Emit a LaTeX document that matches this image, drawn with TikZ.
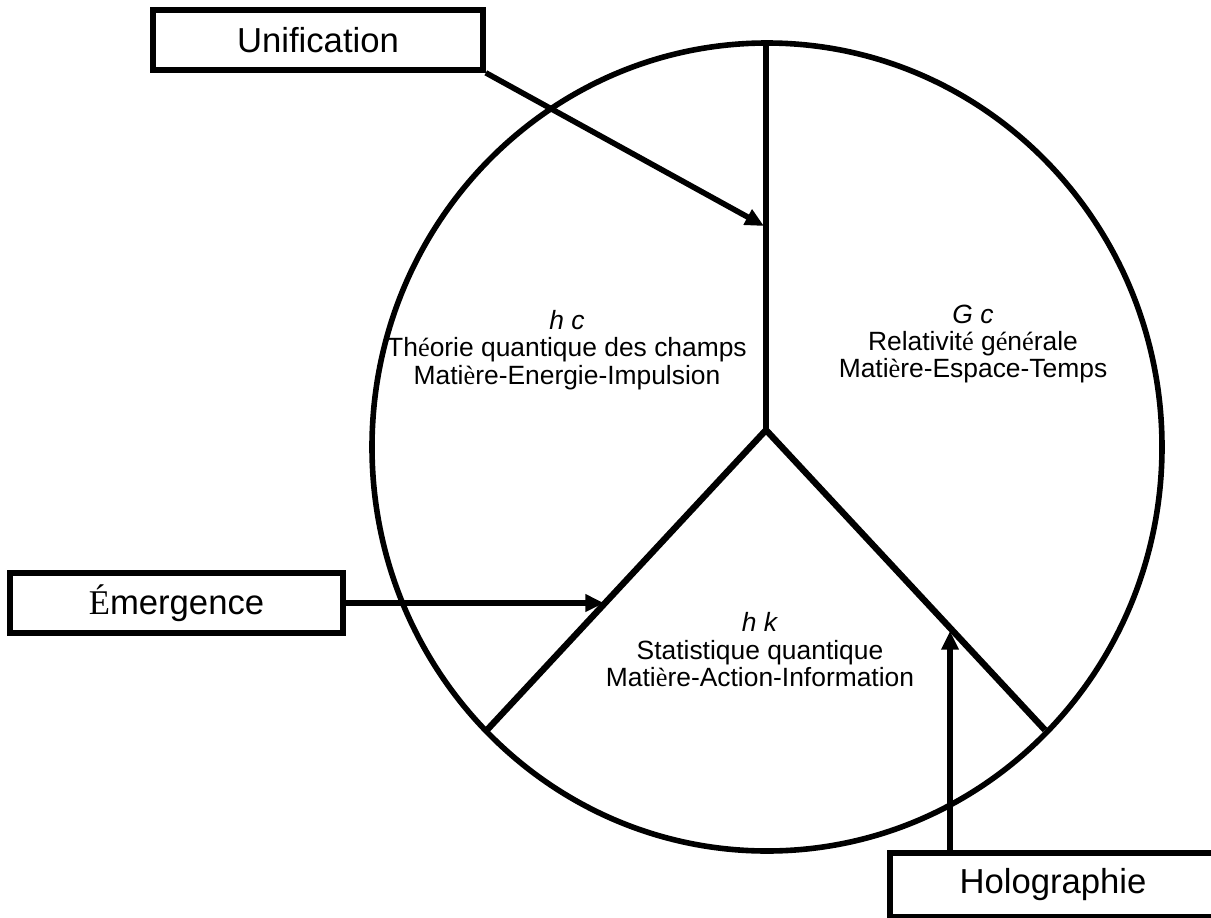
\documentclass[tikz,border=0pt]{standalone}
\usepackage{fontspec}
\setmainfont{Liberation Sans}
\newfontfamily\serifacc{Liberation Serif}
\usetikzlibrary{arrows.meta}
\newcommand{\sa}[1]{{\serifacc #1}}
\begin{document}
\begin{tikzpicture}[x=0.75pt,y=-0.75pt,
  lbl/.style={draw, line width=4.2pt, inner sep=0pt, font=\fontsize{26}{30}\selectfont},
  txt/.style={align=center, inner sep=0pt, font=\fontsize{19.8}{20.6}\selectfont},
  outline/.style={line width=4.2pt},
  yline/.style={line width=4.8pt, line join=miter},
  arr/.style={line width=4.2pt, -{Triangle[length=14pt,width=12.5pt]}}]
\fill[white] (0,0) rectangle (1211,918);
\useasboundingbox (0,0) rectangle (1211,918);
% circle
\draw[outline] (767,447) ellipse [x radius=296.25pt, y radius=303pt];
% Y separators
\coordinate (top) at (766,43);
\coordinate (mid) at (766,430);
\coordinate (ll) at (487,730);
\coordinate (lr) at (1045,730);
\draw[yline] (top) -- (mid);
\draw[yline] (ll) -- (mid) -- (lr);
% boxes
\node[lbl, minimum width=247.5pt, minimum height=45pt] (unif) at (318,40) {Unification};
\node[lbl, minimum width=249.75pt, minimum height=45pt] (emer) at (176.5,603) {\sa{É}mergence};
\node[lbl, minimum width=244.5pt, minimum height=48pt] (holo) at (1053,885) {Holographie};
% arrow tips
\coordinate (uTip) at (764,226);
\coordinate (eTip) at (604,603);
\coordinate (hTip) at (950,631);
\draw[arr] (unif.south east) -- (uTip);
\draw[arr] (emer.east) -- (eTip);
\draw[arr] (holo.north -| hTip) -- (hTip);
% region texts
\node[txt] (qft) at (567,350) {\textit{h c}\\Th\sa{é}orie quantique des champs\\Mati\sa{è}re-Energie-Impulsion};
\node[txt] (gr) at (973,344) {\textit{G c}\\Relativit\sa{é} g\sa{é}n\sa{é}rale\\Mati\sa{è}re-Espace-Temps};
\node[txt] (qs) at (760,650) {\textit{h k}\\Statistique quantique\\Mati\sa{è}re-Action-Information};
\end{tikzpicture}
\end{document}
